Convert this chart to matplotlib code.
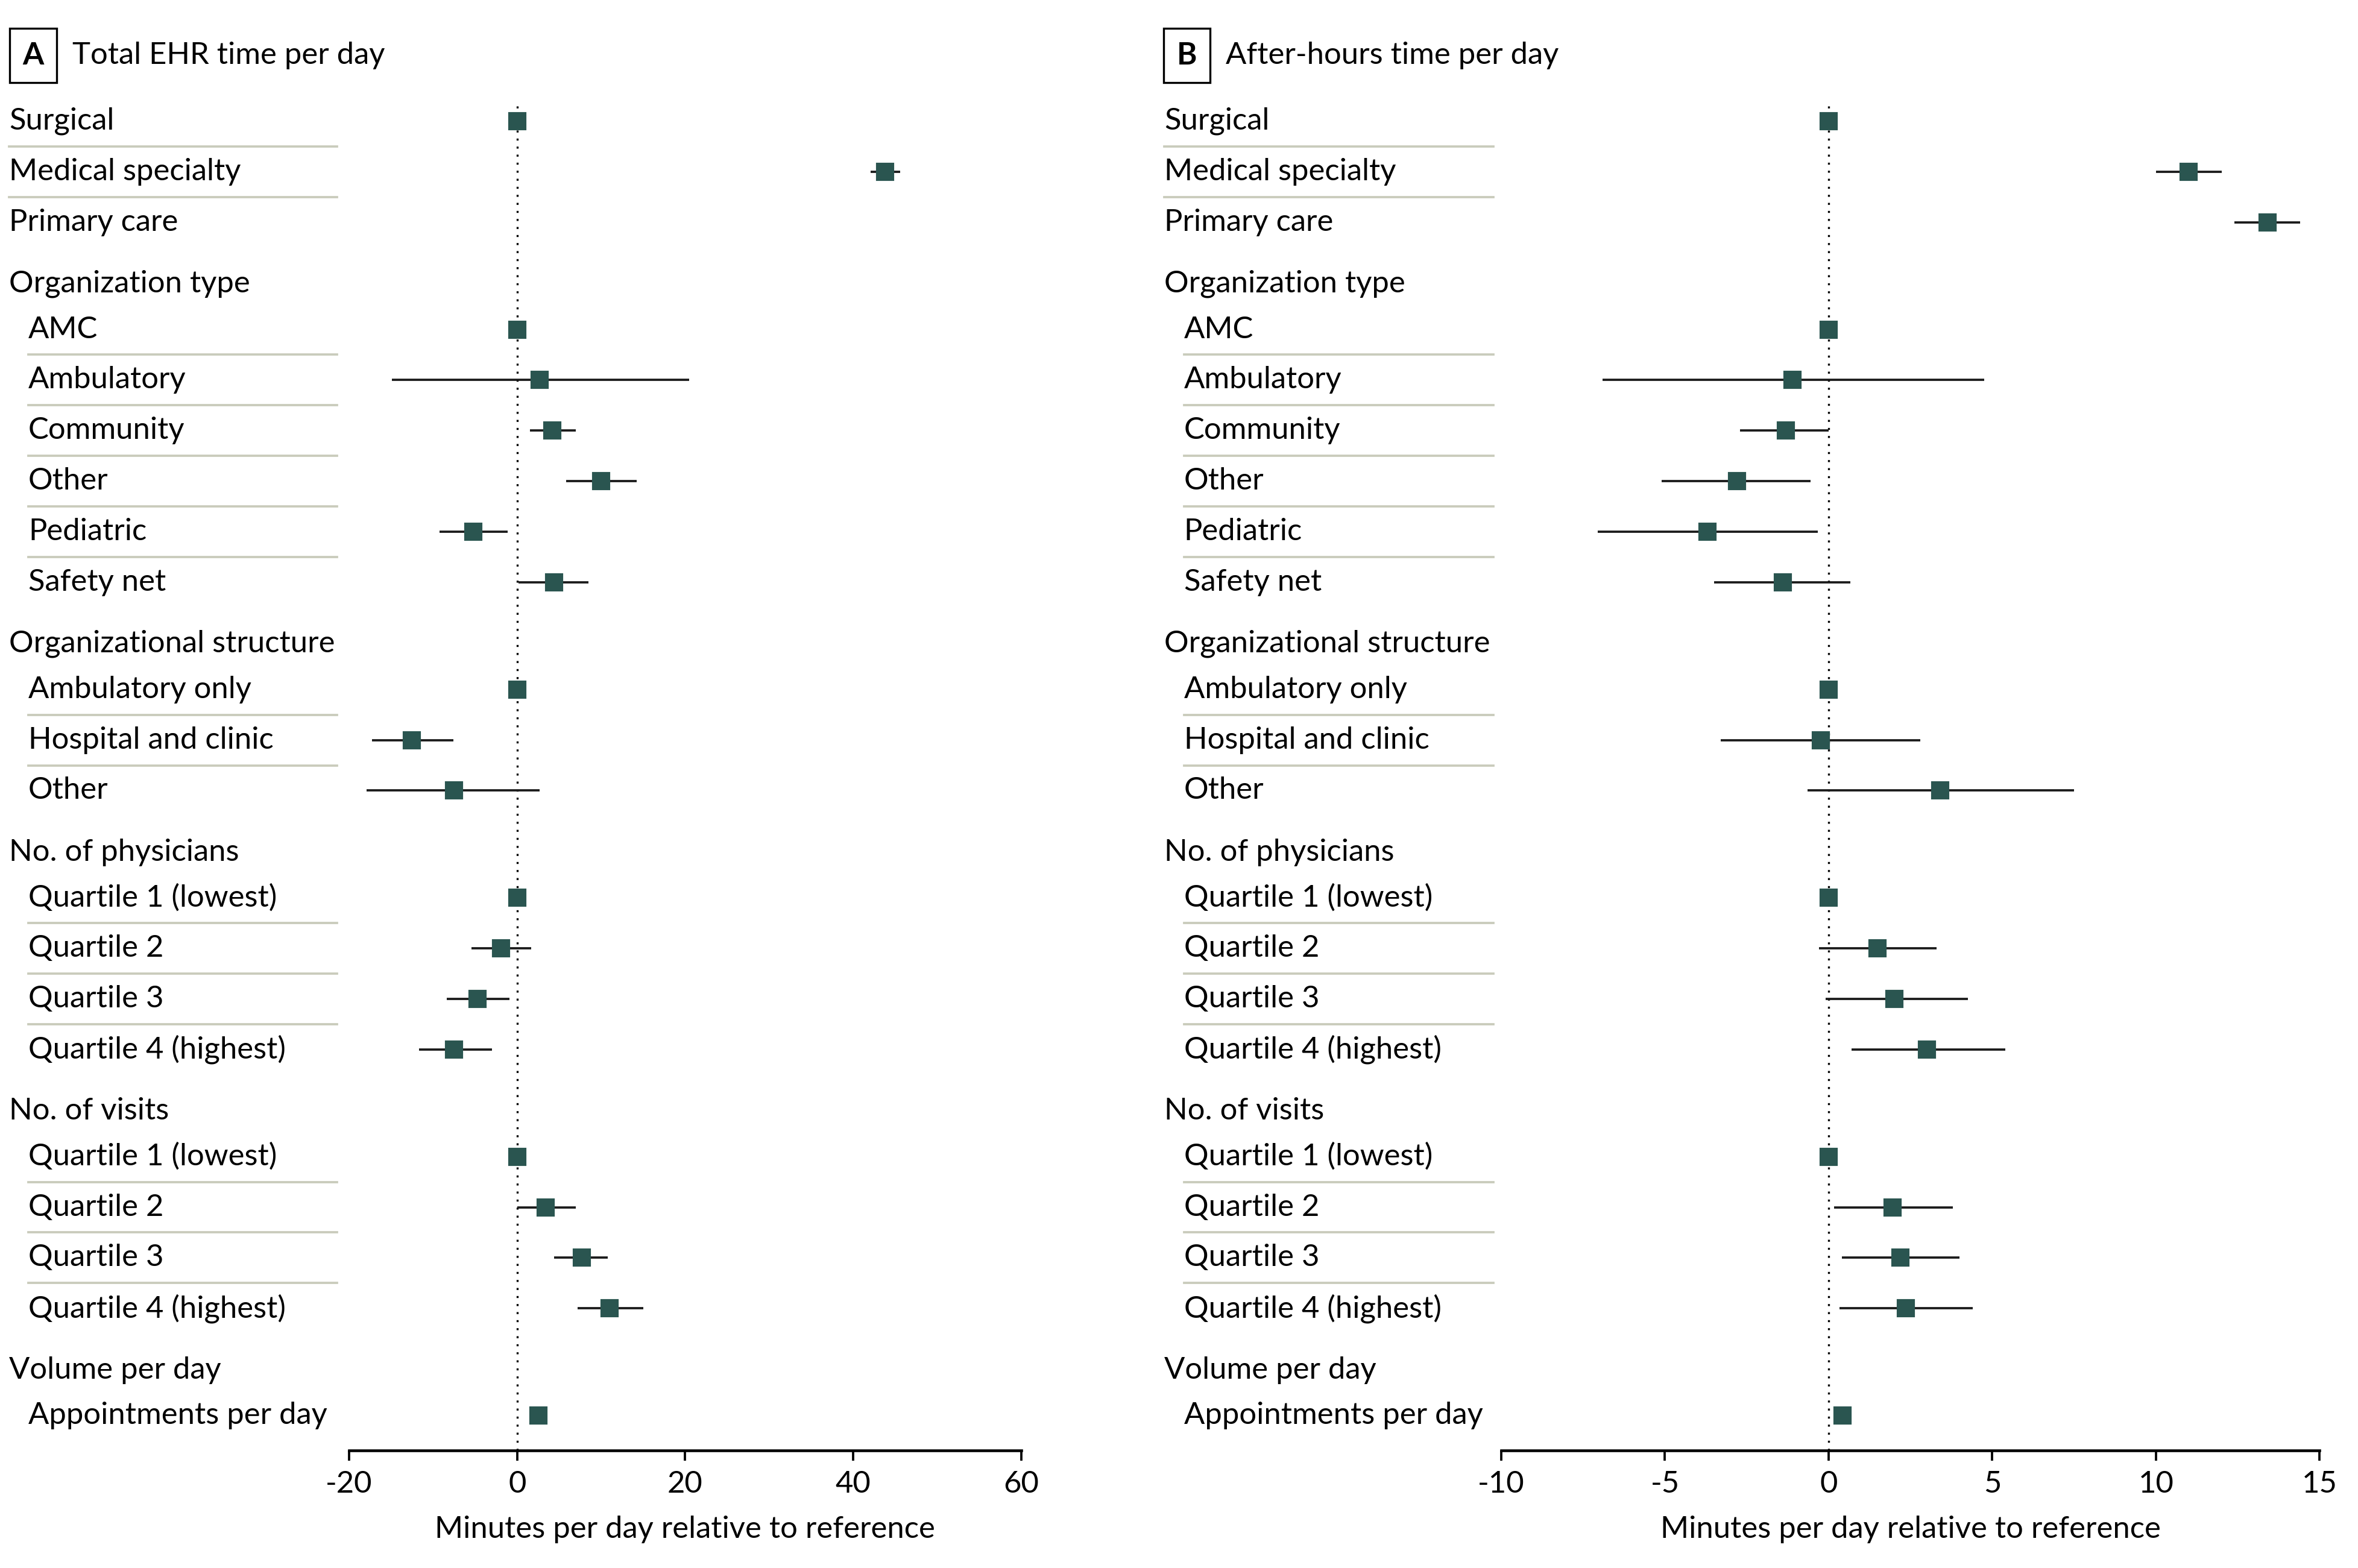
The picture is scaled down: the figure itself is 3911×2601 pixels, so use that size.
import numpy as np
import matplotlib
matplotlib.use('Agg')
import matplotlib.pyplot as plt
import matplotlib.transforms as mtransforms

plt.rcParams['font.family'] = ['Lato', 'DejaVu Sans']
plt.rcParams['axes.unicode_minus'] = False

# Rows of the forest plot (shared by both panels)
labels = ['Surgical', 'Medical specialty', 'Primary care',
          'AMC', 'Ambulatory', 'Community', 'Other', 'Pediatric', 'Safety net',
          'Ambulatory only', 'Hospital and clinic', 'Other',
          'Quartile 1 (lowest)', 'Quartile 2', 'Quartile 3', 'Quartile 4 (highest)',
          'Quartile 1 (lowest)', 'Quartile 2', 'Quartile 3', 'Quartile 4 (highest)',
          'Appointments per day']
group_of = [0, 0, 0, 1, 1, 1, 1, 1, 1, 2, 2, 2, 3, 3, 3, 3, 4, 4, 4, 4, 5]
headers = [None, 'Organization type', 'Organizational structure',
           'No. of physicians', 'No. of visits', 'Volume per day']

nan = np.nan
# A: total EHR time per day (minutes relative to reference)
est_a = [0, 43.8, 63.9, 0, 2.7, 4.2, 10.0, -5.2, 4.4, 0, -12.5, -7.5,
         0, -1.9, -4.7, -7.5, 0, 3.4, 7.7, 11.0, 2.5]
lo_a = [nan, 42.1, 61.9, nan, -14.9, 1.5, 5.8, -9.2, 0.2, nan, -17.3, -17.9,
        nan, -5.4, -8.4, -11.7, nan, 0.0, 4.4, 7.2, 2.2]
hi_a = [nan, 45.6, 66.0, nan, 20.5, 7.0, 14.2, -1.1, 8.5, nan, -7.6, 2.7,
        nan, 1.7, -0.9, -3.0, nan, 7.0, 10.8, 15.0, 2.8]

# B: after-hours time per day
est_b = [0, 11.0, 13.4, 0, -1.1, -1.3, -2.8, -3.7, -1.4, 0, -0.24, 3.4,
         0, 1.5, 2.0, 3.0, 0, 1.95, 2.2, 2.35, 0.42]
lo_b = [nan, 10.0, 12.4, nan, -6.9, -2.7, -5.1, -7.05, -3.5, nan, -3.3, -0.65,
        nan, -0.3, -0.1, 0.7, nan, 0.17, 0.4, 0.33, 0.35]
hi_b = [nan, 12.0, 14.4, nan, 4.75, 0.0, -0.55, -0.33, 0.66, nan, 2.8, 7.5,
        nan, 3.3, 4.25, 5.4, nan, 3.8, 4.0, 4.4, 0.5]

MARK = '#2a5550'
SEP = '#c9cbbb'
FS = 12.2

# vertical layout: items 1 apart, header gap before each new group
row_y = []
header_y = {}
y = 0.0
for i, g in enumerate(group_of):
    if i > 0 and g != group_of[i - 1]:
        y += 1.22
        header_y[g] = y
        y += 0.9
    elif i > 0:
        y += 1.0
    row_y.append(y)

fig = plt.figure(figsize=(13.04, 8.67), dpi=300)


def draw_panel(ax, est, lo, hi, xlim, xticks, letter, title,
               x_head, x_item, x_sep_end, x_box, x_title):
    est = np.array(est)
    lo = np.array(lo)
    hi = np.array(hi)
    ys = np.array(row_y)
    ok = ~np.isnan(lo)
    ax.hlines(ys[ok], lo[ok], hi[ok], color='#1a1a1a', lw=0.9, zorder=2)
    ax.plot(est, ys, 's', color=MARK, ms=6.2, mec=MARK, zorder=3, ls='none')
    ax.axvline(0, color='black', lw=0.8, ls=(0, (1, 3)), zorder=1)

    ax.set_xlim(*xlim)
    ax.set_ylim(row_y[-1] + 0.69, -0.35)
    ax.set_xticks(xticks)
    ax.set_yticks([])
    for s in ['top', 'right', 'left']:
        ax.spines[s].set_visible(False)
    ax.spines['bottom'].set_linewidth(1.1)
    ax.tick_params(axis='x', direction='out', length=4, width=0.9,
                   labelsize=FS, pad=4)
    ax.set_xlabel('Minutes per day relative to reference', fontsize=FS, labelpad=7)

    tr = mtransforms.blended_transform_factory(fig.transFigure, ax.transData)
    for i, lab in enumerate(labels):
        g = group_of[i]
        x0 = x_head if headers[g] is None else x_item
        ax.text(x0, row_y[i], lab, transform=tr, fontsize=FS,
                ha='left', va='center', clip_on=False)
        if i + 1 < len(labels) and group_of[i + 1] == g:
            ym = row_y[i] + 0.5
            ax.plot([x0, x_sep_end], [ym, ym], transform=tr, color=SEP,
                    lw=0.9, clip_on=False)
    for g, yh in header_y.items():
        ax.text(x_head, yh, headers[g], transform=tr, fontsize=FS,
                ha='left', va='center', clip_on=False)

    fig.text(x_box, 0.9645, letter, fontsize=FS, fontweight='bold',
             ha='center', va='center',
             bbox=dict(boxstyle='square,pad=0.42', fc='white', ec='black', lw=0.8))
    fig.text(x_title, 0.9645, title, fontsize=FS, ha='left', va='center')


ax_a = fig.add_axes([0.148, 0.075, 0.285, 0.859])
draw_panel(ax_a, est_a, lo_a, hi_a, (-20, 60), [-20, 0, 20, 40, 60],
           'A', 'Total EHR time per day',
           0.0038, 0.012, 0.143, 0.0141, 0.0306)

ax_b = fig.add_axes([0.6365, 0.075, 0.347, 0.859])
draw_panel(ax_b, est_b, lo_b, hi_b, (-10, 15), [-10, -5, 0, 5, 10, 15],
           'B', 'After-hours time per day',
           0.4936, 0.502, 0.6333, 0.5032, 0.5198)

fig.savefig('out.png', dpi=300, facecolor='white')
